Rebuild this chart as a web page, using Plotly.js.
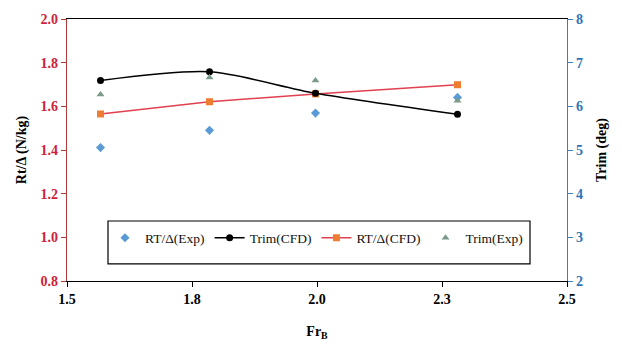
<!DOCTYPE html>
<html>
<head>
<meta charset="utf-8">
<script src="https://cdn.plot.ly/plotly-3.0.1.min.js"></script>
<style>html,body{margin:0;padding:0;background:#fff;}#chart{width:622px;height:347px;}</style>
</head>
<body>
<div id="chart"></div>
<script>
// Froude number (x) positions
const frB = [1.567, 1.785, 1.997, 2.281];
// Left axis series: resistance / displacement
const rtExp = [1.411, 1.490, 1.569, 1.641];
const rtCFD = [1.565, 1.621, 1.657, 1.699];
// Right axis series: trim (deg)
const trimCFD = [6.59, 6.79, 6.30, 5.82];
const trimExp = [6.27, 6.66, 6.59, 6.13];
// Axis tick labels
const xTickVals = [1.5, 1.75, 2.0, 2.25, 2.5];
const xTickText = ['1.5', '1.8', '2.0', '2.3', '2.5'];
const seriesNames = ['RT/Δ(Exp)', 'Trim(CFD)', 'RT/Δ(CFD)', 'Trim(Exp)'];

const serif = 'Liberation Serif, Times New Roman, serif';

const traces = [
  {x: frB, y: rtExp, name: seriesNames[0], type: 'scatter', mode: 'markers', yaxis: 'y',
   marker: {symbol: 'diamond', size: 7, color: '#5b9bd5'}},
  {x: frB, y: trimCFD, name: seriesNames[1], type: 'scatter', mode: 'lines+markers', yaxis: 'y2',
   line: {color: '#000000', width: 1.5, shape: 'spline', smoothing: 0.8},
   marker: {symbol: 'circle', size: 7, color: '#000000'}},
  {x: frB, y: rtCFD, name: seriesNames[2], type: 'scatter', mode: 'lines+markers', yaxis: 'y',
   line: {color: '#e0404f', width: 1.5},
   marker: {symbol: 'square', size: 7, color: '#ed7d31'}},
  {x: frB, y: trimExp, name: seriesNames[3], type: 'scatter', mode: 'markers', yaxis: 'y2',
   marker: {symbol: 'triangle-up', size: 7, color: '#7a9a8a'}}
];

const layout = {
  width: 622, height: 347,
  margin: {l: 67, r: 55, t: 19, b: 66},
  paper_bgcolor: '#ffffff', plot_bgcolor: '#ffffff',
  showlegend: true,
  legend: {
    orientation: 'h', x: 0.076, y: 0.164, xanchor: 'left', yanchor: 'middle',
    font: {family: serif, size: 13.5, color: '#111111'},
    bgcolor: 'rgba(0,0,0,0)', borderwidth: 0,
    itemwidth: 30, tracegroupgap: 0
  },
  shapes: [{
    type: 'rect', xref: 'paper', yref: 'paper',
    x0: 0.082, x1: 0.926, y0: 0.065, y1: 0.229,
    line: {color: '#000000', width: 1.2}, fillcolor: 'rgba(0,0,0,0)'
  }],
  xaxis: {
    range: [1.5, 2.5], tickvals: xTickVals, ticktext: xTickText,
    showgrid: false, zeroline: false, showline: true, mirror: true,
    linecolor: '#000000', linewidth: 1.2,
    ticks: 'outside', ticklen: 5, tickcolor: '#000000',
    tickfont: {family: serif, size: 14, color: '#000000', weight: 'bold'},
    title: {text: 'Fr<sub>B</sub>', font: {family: serif, size: 14, color: '#000000', weight: 'bold'}, standoff: 20}
  },
  yaxis: {
    range: [0.8, 2.0], dtick: 0.2, tickformat: '.1f',
    showgrid: false, zeroline: false, showline: true,
    linecolor: '#b03a3a', linewidth: 1.2,
    ticks: 'outside', ticklen: 5, tickcolor: '#b03a3a',
    tickfont: {family: serif, size: 14, color: '#d0213a', weight: 'bold'},
    title: {text: 'Rt/Δ (N/kg)', font: {family: serif, size: 14, color: '#000000', weight: 'bold'}, standoff: 10}
  },
  yaxis2: {
    range: [2, 8], dtick: 1, overlaying: 'y', side: 'right',
    showgrid: false, zeroline: false, showline: true,
    linecolor: '#3a7fb5', linewidth: 1.2,
    ticks: 'outside', ticklen: 5, tickcolor: '#3a7fb5',
    tickfont: {family: serif, size: 14, color: '#2e75b6', weight: 'bold'},
    title: {text: 'Trim (deg)', font: {family: serif, size: 14, color: '#000000', weight: 'bold'}, standoff: 14}
  }
};

Plotly.newPlot('chart', traces, layout, {staticPlot: true, displayModeBar: false});
</script>
</body>
</html>
